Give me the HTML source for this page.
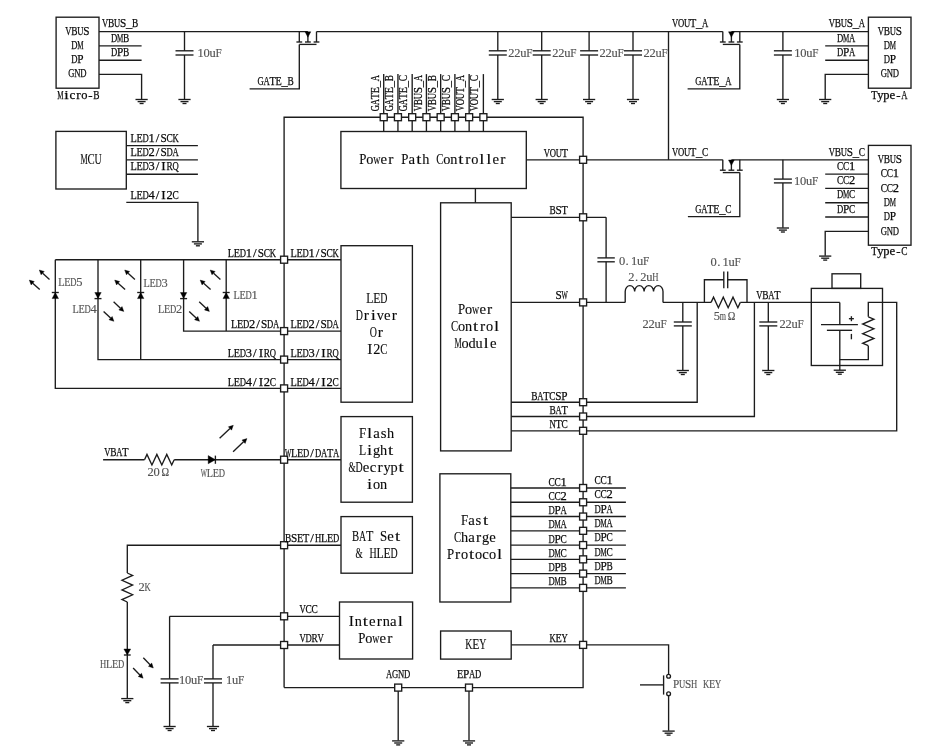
<!DOCTYPE html>
<html lang="en">
<head>
<meta charset="utf-8">
<title>Power bank SoC typical application schematic</title>
<style>
html,body{margin:0;padding:0;background:#fff;}
body{width:946px;height:755px;overflow:hidden;}
svg{display:block;filter:grayscale(1);}
.w{fill:none;stroke:#1c1c1c;stroke-width:1.35;stroke-linecap:butt;stroke-linejoin:miter;}
.p{fill:#fff;stroke:#1c1c1c;stroke-width:1.35;}
.f{fill:#000;stroke:#000;stroke-width:0.4;}
text{font-family:"Liberation Serif", serif;fill:#0a0a0a;stroke:#0a0a0a;stroke-width:0.25;white-space:pre;}
.s{font-size:12.9px;}
.b{font-size:14.8px;stroke-width:0.12;}
.g{fill:#525252;stroke:#525252;stroke-width:0.15;}
</style>
</head>
<body>
<svg role="img" aria-label="Power bank SoC application schematic" width="946" height="755" viewBox="0 0 946 755">
<rect width="946" height="755" fill="#fff"/>
<g class="w">
<rect x="56.1" y="17.2" width="42.9" height="71"/>
<path d="M99 31.6 L307.9 31.6"/>
<path d="M99 45.9 L141.6 45.9"/>
<path d="M99 60.2 L141.6 60.2"/>
<path d="M99 74.4 L141.6 74.4 L141.6 99.2"/>
<path d="M135.5 99.5 L147.7 99.5"/>
<path d="M137.6 101.6 L145.6 101.6"/>
<path d="M139.6 103.5 L143.6 103.5"/>
<path d="M184.5 31.6 L184.5 50.8"/>
<path d="M175.5 50.8 L193.5 50.8"/>
<path d="M175.5 55 L193.5 55"/>
<path d="M184.5 55 L184.5 99.2"/>
<path d="M178.4 99.5 L190.6 99.5"/>
<path d="M180.5 101.6 L188.5 101.6"/>
<path d="M182.5 103.5 L186.5 103.5"/>
<path d="M299.3 31.6 L299.3 42"/>
<path d="M316.5 31.6 L316.5 42"/>
<path d="M296.4 42 L302.2 42"/>
<path d="M305 42 L310.8 42"/>
<path d="M313.6 42 L319.4 42"/>
<path d="M307.9 35.6 L307.9 42"/>
<path d="M299.3 44.4 L316.5 44.4"/>
<path d="M249.6 88.8 L299.3 88.8 L299.3 44.4"/>
<path d="M316.5 31.6 L722.8 31.6"/>
<path d="M497.8 31.6 L497.8 50.8"/>
<path d="M488.8 50.8 L506.8 50.8"/>
<path d="M488.8 55 L506.8 55"/>
<path d="M497.8 55 L497.8 99.2"/>
<path d="M491.7 99.5 L503.9 99.5"/>
<path d="M493.8 101.6 L501.8 101.6"/>
<path d="M495.8 103.5 L499.8 103.5"/>
<path d="M541.7 31.6 L541.7 50.8"/>
<path d="M532.7 50.8 L550.7 50.8"/>
<path d="M532.7 55 L550.7 55"/>
<path d="M541.7 55 L541.7 99.2"/>
<path d="M535.6 99.5 L547.8 99.5"/>
<path d="M537.7 101.6 L545.7 101.6"/>
<path d="M539.7 103.5 L543.7 103.5"/>
<path d="M589.1 31.6 L589.1 50.8"/>
<path d="M580.1 50.8 L598.1 50.8"/>
<path d="M580.1 55 L598.1 55"/>
<path d="M589.1 55 L589.1 99.2"/>
<path d="M583 99.5 L595.2 99.5"/>
<path d="M585.1 101.6 L593.1 101.6"/>
<path d="M587.1 103.5 L591.1 103.5"/>
<path d="M633 31.6 L633 50.8"/>
<path d="M624 50.8 L642 50.8"/>
<path d="M624 55 L642 55"/>
<path d="M633 55 L633 99.2"/>
<path d="M626.9 99.5 L639.1 99.5"/>
<path d="M629 101.6 L637 101.6"/>
<path d="M631 103.5 L635 103.5"/>
<path d="M668.5 31.6 L668.5 159.8"/>
<path d="M722.8 31.6 L722.8 42"/>
<path d="M739.8 31.6 L739.8 42"/>
<path d="M719.9 42 L725.7 42"/>
<path d="M728.5 42 L734.3 42"/>
<path d="M736.9 42 L742.7 42"/>
<path d="M731.4 35.6 L731.4 42"/>
<path d="M722.8 44.4 L739.8 44.4"/>
<path d="M687.6 88.8 L739.8 88.8 L739.8 44.4"/>
<path d="M731.4 31.6 L868.4 31.6"/>
<path d="M782.9 31.6 L782.9 50.8"/>
<path d="M773.9 50.8 L791.9 50.8"/>
<path d="M773.9 55 L791.9 55"/>
<path d="M782.9 55 L782.9 99.2"/>
<path d="M776.8 99.5 L789 99.5"/>
<path d="M778.9 101.6 L786.9 101.6"/>
<path d="M780.9 103.5 L784.9 103.5"/>
<rect x="868.4" y="17.2" width="42.6" height="71"/>
<path d="M825.2 45.9 L868.4 45.9"/>
<path d="M825.2 60.2 L868.4 60.2"/>
<path d="M868.4 74.4 L825.2 74.4 L825.2 99.2"/>
<path d="M819.1 99.5 L831.3 99.5"/>
<path d="M821.2 101.6 L829.2 101.6"/>
<path d="M823.2 103.5 L827.2 103.5"/>
<path d="M583.2 159.8 L722.8 159.8"/>
<path d="M722.8 159.8 L722.8 170.2"/>
<path d="M739.8 159.8 L739.8 170.2"/>
<path d="M719.9 170.2 L725.7 170.2"/>
<path d="M728.5 170.2 L734.3 170.2"/>
<path d="M736.9 170.2 L742.7 170.2"/>
<path d="M731.4 163.8 L731.4 170.2"/>
<path d="M722.8 172.6 L739.8 172.6"/>
<path d="M687.9 216.6 L739.8 216.6 L739.8 172.6"/>
<path d="M731.4 159.8 L868.4 159.8"/>
<path d="M782.9 159.8 L782.9 179.1"/>
<path d="M773.9 179.1 L791.9 179.1"/>
<path d="M773.9 182.9 L791.9 182.9"/>
<path d="M782.9 182.9 L782.9 227.7"/>
<path d="M776.8 228 L789 228"/>
<path d="M778.9 230.1 L786.9 230.1"/>
<path d="M780.9 232 L784.9 232"/>
<rect x="868.4" y="145.4" width="42.6" height="99.8"/>
<path d="M825.2 174.1 L868.4 174.1"/>
<path d="M825.2 188.4 L868.4 188.4"/>
<path d="M825.2 202.7 L868.4 202.7"/>
<path d="M825.2 217 L868.4 217"/>
<path d="M868.4 231.3 L825.2 231.3 L825.2 255.8"/>
<path d="M819.1 256.1 L831.3 256.1"/>
<path d="M821.2 258.2 L829.2 258.2"/>
<path d="M823.2 260.1 L827.2 260.1"/>
<rect x="55.9" y="131.4" width="70.4" height="57.6"/>
<path d="M126.3 145.6 L197.9 145.6"/>
<path d="M126.3 159.9 L197.9 159.9"/>
<path d="M126.3 174.2 L197.9 174.2"/>
<path d="M126.3 202.3 L197.9 202.3 L197.9 241.5"/>
<path d="M191.8 241.8 L204 241.8"/>
<path d="M193.9 243.9 L201.9 243.9"/>
<path d="M195.9 245.8 L199.9 245.8"/>
<path d="M284.1 687.6 L284.1 117.2 L583.1 117.2 L583.1 687.6 L284.1 687.6"/>
<path d="M383.7 74.1 L383.7 131.5"/>
<path d="M397.94 74.1 L397.94 131.5"/>
<path d="M412.18 74.1 L412.18 131.5"/>
<path d="M426.42 74.1 L426.42 131.5"/>
<path d="M440.66 74.1 L440.66 131.5"/>
<path d="M454.9 74.1 L454.9 131.5"/>
<path d="M469.14 74.1 L469.14 131.5"/>
<path d="M483.38 74.1 L483.38 131.5"/>
<rect x="340.9" y="131.5" width="185.4" height="57"/>
<path d="M475.4 188.5 L475.4 202.8"/>
<rect x="341" y="245.7" width="71.4" height="156.5"/>
<rect x="440.6" y="202.8" width="70.6" height="248.1"/>
<rect x="341" y="416.6" width="71.4" height="85.6"/>
<rect x="341" y="516.6" width="71.4" height="56.6"/>
<rect x="339.5" y="602" width="73.1" height="57"/>
<rect x="439.9" y="473.8" width="70.9" height="128.2"/>
<rect x="440.6" y="631" width="70.6" height="28.1"/>
<path d="M284.1 259.7 L341 259.7"/>
<path d="M284.1 331.1 L341 331.1"/>
<path d="M284.1 359.6 L341 359.6"/>
<path d="M284.1 388.4 L341 388.4"/>
<path d="M284.1 459.7 L341 459.7"/>
<path d="M284.1 545.2 L341 545.2"/>
<path d="M284.1 616.3 L339.5 616.3"/>
<path d="M284.1 645 L339.5 645"/>
<path d="M398.2 687.6 L398.2 740.6"/>
<path d="M392.1 740.9 L404.3 740.9"/>
<path d="M394.2 743 L402.2 743"/>
<path d="M396.2 744.9 L400.2 744.9"/>
<path d="M469 687.6 L469 740.6"/>
<path d="M462.9 740.9 L475.1 740.9"/>
<path d="M465 743 L473 743"/>
<path d="M467 744.9 L471 744.9"/>
<path d="M526.3 159.8 L583.1 159.8"/>
<path d="M511.2 217.3 L606.1 217.3"/>
<path d="M510.8 488 L625.9 488"/>
<path d="M510.8 502.27 L625.9 502.27"/>
<path d="M510.8 516.54 L625.9 516.54"/>
<path d="M510.8 530.81 L625.9 530.81"/>
<path d="M510.8 545.08 L625.9 545.08"/>
<path d="M510.8 559.35 L625.9 559.35"/>
<path d="M510.8 573.62 L625.9 573.62"/>
<path d="M510.8 587.89 L625.9 587.89"/>
<path d="M55.3 259.7 L284.1 259.7"/>
<path d="M55.3 259.7 L55.3 388.4 L284.1 388.4"/>
<path d="M98 259.7 L98 359.6 L284.1 359.6"/>
<path d="M140.7 259.7 L140.7 359.6"/>
<path d="M183.6 259.7 L183.6 331.1 L284.1 331.1"/>
<path d="M226.2 259.7 L226.2 331.1"/>
<path d="M51.8 292.5 L58.8 292.5"/>
<path d="M94.5 298.6 L101.5 298.6"/>
<path d="M137.2 292.5 L144.2 292.5"/>
<path d="M180.1 298.6 L187.1 298.6"/>
<path d="M222.7 292.5 L229.7 292.5"/>
<path d="M49.5 279.5 L42.67 273.14"/>
<path d="M39.7 289.6 L32.7 283.2"/>
<path d="M134.9 279.5 L128.07 273.14"/>
<path d="M125.1 289.6 L118.1 283.2"/>
<path d="M220.4 279.5 L213.57 273.14"/>
<path d="M210.6 289.6 L203.6 283.2"/>
<path d="M113.6 301.8 L120.45 308.25"/>
<path d="M103.6 311.4 L110.58 318.11"/>
<path d="M199.2 301.8 L206.05 308.25"/>
<path d="M189.2 311.4 L196.18 318.11"/>
<path d="M103.1 459.7 L144.5 459.7"/>
<path d="M144.5 459.7 L146.97 454.4 L151.92 465 L156.87 454.4 L161.82 465 L166.77 454.4 L171.72 465 L174.2 459.7"/>
<path d="M174.2 459.7 L284.1 459.7"/>
<path d="M215.4 455.6 L215.4 463.8"/>
<path d="M219.6 438.3 L229.96 428.47"/>
<path d="M233.1 451.7 L243.56 441.77"/>
<path d="M284.1 545.2 L127.3 545.2 L127.3 573"/>
<path d="M127.3 573 L132.6 575.42 L122 580.25 L132.6 585.08 L122 589.92 L132.6 594.75 L122 599.58 L127.3 602"/>
<path d="M127.3 602 L127.3 698.3"/>
<path d="M121.2 698.6 L133.4 698.6"/>
<path d="M123.3 700.7 L131.3 700.7"/>
<path d="M125.3 702.6 L129.3 702.6"/>
<path d="M123.9 655 L130.7 655"/>
<path d="M143.3 657.8 L150.08 664.72"/>
<path d="M133.1 668 L139.88 674.92"/>
<path d="M284.1 616.3 L169.6 616.3"/>
<path d="M169.6 616.3 L169.6 678.9"/>
<path d="M160.6 678.9 L178.6 678.9"/>
<path d="M160.6 682.9 L178.6 682.9"/>
<path d="M169.6 682.9 L169.6 726.2"/>
<path d="M163.5 726.5 L175.7 726.5"/>
<path d="M165.6 728.6 L173.6 728.6"/>
<path d="M167.6 730.5 L171.6 730.5"/>
<path d="M284.1 645 L213 645"/>
<path d="M213 645 L213 678.9"/>
<path d="M204 678.9 L222 678.9"/>
<path d="M204 682.9 L222 682.9"/>
<path d="M213 682.9 L213 726.2"/>
<path d="M206.9 726.5 L219.1 726.5"/>
<path d="M209 728.6 L217 728.6"/>
<path d="M211 730.5 L215 730.5"/>
<path d="M583.1 159.8 L583.1 159.8"/>
<path d="M606.1 217.3 L606.1 257.9"/>
<path d="M597.4 257.9 L614.8 257.9"/>
<path d="M597.4 261.8 L614.8 261.8"/>
<path d="M606.1 261.8 L606.1 302.4"/>
<path d="M511.2 302.4 L625.2 302.4"/>
<path d="M625.2 302.4 V291.6 A4.72 5.9 0 0 1 634.65 291.6 A4.72 5.9 0 0 1 644.1 291.6 A4.72 5.9 0 0 1 653.55 291.6 A4.72 5.9 0 0 1 663 291.6 V302.4"/>
<path d="M663 302.4 L711.1 302.4"/>
<path d="M682.8 302.4 L682.8 322"/>
<path d="M673.8 322 L691.8 322"/>
<path d="M673.8 325.9 L691.8 325.9"/>
<path d="M682.8 325.9 L682.8 370.2"/>
<path d="M676.7 370.5 L688.9 370.5"/>
<path d="M678.8 372.6 L686.8 372.6"/>
<path d="M680.8 374.5 L684.8 374.5"/>
<path d="M697.2 302.4 L697.2 402.2 L511.2 402.2"/>
<path d="M711.1 302.4 L713.53 297.1 L718.4 307.7 L723.27 297.1 L728.13 307.7 L733 297.1 L737.87 307.7 L740.3 302.4"/>
<path d="M704.4 302.4 L704.4 279.7 L723.8 279.7"/>
<path d="M723.8 271.4 L723.8 288.3"/>
<path d="M727.7 271.4 L727.7 288.3"/>
<path d="M727.7 279.7 L747 279.7 L747 302.4"/>
<path d="M740.3 302.4 L839.8 302.4"/>
<path d="M754.4 302.4 L754.4 416.5 L511.2 416.5"/>
<path d="M768.3 302.4 L768.3 322"/>
<path d="M759.3 322 L777.3 322"/>
<path d="M759.3 325.9 L777.3 325.9"/>
<path d="M768.3 325.9 L768.3 370.2"/>
<path d="M762.2 370.5 L774.4 370.5"/>
<path d="M764.3 372.6 L772.3 372.6"/>
<path d="M766.3 374.5 L770.3 374.5"/>
<rect x="832" y="273.8" width="28.7" height="14.6"/>
<rect x="811.3" y="288.4" width="71.2" height="77.1"/>
<path d="M839.8 302.4 L839.8 324.6"/>
<path d="M821 324.6 L857.9 324.6"/>
<path d="M826.9 330.3 L852.1 330.3"/>
<path d="M839.8 330.3 L839.8 369.9"/>
<path d="M833.7 370.2 L845.9 370.2"/>
<path d="M835.8 372.3 L843.8 372.3"/>
<path d="M837.8 374.2 L841.8 374.2"/>
<path d="M839.8 359.6 L868.3 359.6 L868.3 345.7"/>
<path d="M868.3 316.8 L873.9 319.21 L862.7 324.03 L873.9 328.84 L862.7 333.66 L873.9 338.48 L862.7 343.29 L868.3 345.7"/>
<path d="M868.3 316.8 L868.3 302.4 L896.7 302.4 L896.7 430.8 L511.2 430.8"/>
<path d="M848.9 318.7 L853.9 318.7"/>
<path d="M851.4 316.2 L851.4 321.2"/>
<path d="M851.4 333.9 L851.4 339.3"/>
<path d="M511.2 644.9 L668.6 644.9 L668.6 674.2"/>
<circle cx="668.6" cy="676.2" r="1.9" fill="#fff"/>
<circle cx="668.6" cy="693.8" r="1.9" fill="#fff"/>
<path d="M668.6 695.8 L668.6 730.8"/>
<path d="M662.5 731.1 L674.7 731.1"/>
<path d="M664.6 733.2 L672.6 733.2"/>
<path d="M666.6 735.1 L670.6 735.1"/>
<path d="M663.6 675.4 L663.6 694.6"/>
<path d="M640 684.9 L663.6 684.9"/>
</g>
<g class="p"><rect x="380.2" y="113.7" width="7" height="7"/><rect x="394.44" y="113.7" width="7" height="7"/><rect x="408.68" y="113.7" width="7" height="7"/><rect x="422.92" y="113.7" width="7" height="7"/><rect x="437.16" y="113.7" width="7" height="7"/><rect x="451.4" y="113.7" width="7" height="7"/><rect x="465.64" y="113.7" width="7" height="7"/><rect x="479.88" y="113.7" width="7" height="7"/><rect x="280.6" y="256.2" width="7" height="7"/><rect x="280.6" y="327.6" width="7" height="7"/><rect x="280.6" y="356.1" width="7" height="7"/><rect x="280.6" y="384.9" width="7" height="7"/><rect x="280.6" y="456.2" width="7" height="7"/><rect x="280.6" y="541.7" width="7" height="7"/><rect x="280.6" y="612.8" width="7" height="7"/><rect x="280.6" y="641.5" width="7" height="7"/><rect x="394.7" y="684.1" width="7" height="7"/><rect x="465.5" y="684.1" width="7" height="7"/><rect x="579.6" y="156.3" width="7" height="7"/><rect x="579.6" y="213.8" width="7" height="7"/><rect x="579.6" y="298.9" width="7" height="7"/><rect x="579.6" y="398.7" width="7" height="7"/><rect x="579.6" y="413" width="7" height="7"/><rect x="579.6" y="427.3" width="7" height="7"/><rect x="579.6" y="484.5" width="7" height="7"/><rect x="579.6" y="498.77" width="7" height="7"/><rect x="579.6" y="513.04" width="7" height="7"/><rect x="579.6" y="527.31" width="7" height="7"/><rect x="579.6" y="541.58" width="7" height="7"/><rect x="579.6" y="555.85" width="7" height="7"/><rect x="579.6" y="570.12" width="7" height="7"/><rect x="579.6" y="584.39" width="7" height="7"/><rect x="579.6" y="641.4" width="7" height="7"/></g>
<g class="f">
<path d="M307.9 37.2 L305 31.8 L310.8 31.8 Z"/>
<path d="M731.4 37.2 L728.5 31.8 L734.3 31.8 Z"/>
<path d="M731.4 165.4 L728.5 160 L734.3 160 Z"/>
<path d="M55.3 292.5 L52.1 298.6 L58.5 298.6 Z"/>
<path d="M98 298.6 L94.8 292.5 L101.2 292.5 Z"/>
<path d="M140.7 292.5 L137.5 298.6 L143.9 298.6 Z"/>
<path d="M183.6 298.6 L180.4 292.5 L186.8 292.5 Z"/>
<path d="M226.2 292.5 L223 298.6 L229.4 298.6 Z"/>
<path d="M39.3 270 L44.23 271.45 L41.1 274.82 Z"/>
<path d="M29.3 280.1 L34.25 281.5 L31.15 284.9 Z"/>
<path d="M124.7 270 L129.63 271.45 L126.5 274.82 Z"/>
<path d="M114.7 280.1 L119.65 281.5 L116.55 284.9 Z"/>
<path d="M210.2 270 L215.13 271.45 L212 274.82 Z"/>
<path d="M200.2 280.1 L205.15 281.5 L202.05 284.9 Z"/>
<path d="M123.8 311.4 L118.87 309.92 L122.03 306.57 Z"/>
<path d="M113.9 321.3 L108.99 319.77 L112.18 316.45 Z"/>
<path d="M209.4 311.4 L204.47 309.92 L207.63 306.57 Z"/>
<path d="M199.5 321.3 L194.59 319.77 L197.78 316.45 Z"/>
<path d="M215.4 459.7 L208.2 455.6 L208.2 463.8 Z"/>
<path d="M233.3 425.3 L231.55 430.13 L228.38 426.8 Z"/>
<path d="M246.9 438.6 L245.15 443.44 L241.98 440.1 Z"/>
<path d="M127.3 655 L123.9 649 L130.7 649 Z"/>
<path d="M153.3 668 L148.44 666.33 L151.72 663.11 Z"/>
<path d="M143.1 678.2 L138.24 676.53 L141.52 673.31 Z"/>
</g>
<g opacity="0.995">
<text class="s" y="34.7"><title>VBUS</title><tspan x="65.28" textLength="6.25" lengthAdjust="spacingAndGlyphs">V</tspan><tspan x="71.28" textLength="6.25" lengthAdjust="spacingAndGlyphs">B</tspan><tspan x="77.28" textLength="6.25" lengthAdjust="spacingAndGlyphs">U</tspan><tspan x="83.28" textLength="6.25" lengthAdjust="spacingAndGlyphs">S</tspan></text>
<text class="s" y="48.7"><title>DM</title><tspan x="71.28" textLength="6.25" lengthAdjust="spacingAndGlyphs">D</tspan><tspan x="77.28" textLength="6.25" lengthAdjust="spacingAndGlyphs">M</tspan></text>
<text class="s" y="63.3"><title>DP</title><tspan x="71.28" textLength="6.25" lengthAdjust="spacingAndGlyphs">D</tspan><tspan x="77.28" textLength="6.25" lengthAdjust="spacingAndGlyphs">P</tspan></text>
<text class="s" y="77.3"><title>GND</title><tspan x="68.28" textLength="6.25" lengthAdjust="spacingAndGlyphs">G</tspan><tspan x="74.28" textLength="6.25" lengthAdjust="spacingAndGlyphs">N</tspan><tspan x="80.28" textLength="6.25" lengthAdjust="spacingAndGlyphs">D</tspan></text>
<text class="s" y="99"><title>Micro-B</title><tspan x="57.27" textLength="6.25" lengthAdjust="spacingAndGlyphs">M</tspan><tspan x="64.18" textLength="4.44" lengthAdjust="spacingAndGlyphs">i</tspan><tspan x="69.54">c</tspan><tspan x="76.18" textLength="4.44" lengthAdjust="spacingAndGlyphs">r</tspan><tspan x="81.28" textLength="6.25" lengthAdjust="spacingAndGlyphs">o</tspan><tspan x="88.25">-</tspan><tspan x="93.28" textLength="6.25" lengthAdjust="spacingAndGlyphs">B</tspan></text>
<text class="s" y="27.4"><title>VBUS_B</title><tspan x="101.88" textLength="6.25" lengthAdjust="spacingAndGlyphs">V</tspan><tspan x="107.88" textLength="6.25" lengthAdjust="spacingAndGlyphs">B</tspan><tspan x="113.88" textLength="6.25" lengthAdjust="spacingAndGlyphs">U</tspan><tspan x="119.88" textLength="6.25" lengthAdjust="spacingAndGlyphs">S</tspan><tspan x="125.88" textLength="6.25" lengthAdjust="spacingAndGlyphs">_</tspan><tspan x="131.88" textLength="6.25" lengthAdjust="spacingAndGlyphs">B</tspan></text>
<text class="s" y="41.5"><title>DMB</title><tspan x="110.88" textLength="6.25" lengthAdjust="spacingAndGlyphs">D</tspan><tspan x="116.88" textLength="6.25" lengthAdjust="spacingAndGlyphs">M</tspan><tspan x="122.88" textLength="6.25" lengthAdjust="spacingAndGlyphs">B</tspan></text>
<text class="s" y="56"><title>DPB</title><tspan x="110.88" textLength="6.25" lengthAdjust="spacingAndGlyphs">D</tspan><tspan x="116.88" textLength="6.25" lengthAdjust="spacingAndGlyphs">P</tspan><tspan x="122.88" textLength="6.25" lengthAdjust="spacingAndGlyphs">B</tspan></text>
<text class="s g" y="56.9"><title>10uF</title><tspan x="197.38" textLength="6.25" lengthAdjust="spacingAndGlyphs">1</tspan><tspan x="203.38" textLength="6.25" lengthAdjust="spacingAndGlyphs">0</tspan><tspan x="209.38" textLength="6.25" lengthAdjust="spacingAndGlyphs">u</tspan><tspan x="215.38" textLength="6.25" lengthAdjust="spacingAndGlyphs">F</tspan></text>
<text class="s" y="84.9"><title>GATE_B</title><tspan x="257.48" textLength="6.25" lengthAdjust="spacingAndGlyphs">G</tspan><tspan x="263.48" textLength="6.25" lengthAdjust="spacingAndGlyphs">A</tspan><tspan x="269.48" textLength="6.25" lengthAdjust="spacingAndGlyphs">T</tspan><tspan x="275.48" textLength="6.25" lengthAdjust="spacingAndGlyphs">E</tspan><tspan x="281.48" textLength="6.25" lengthAdjust="spacingAndGlyphs">_</tspan><tspan x="287.48" textLength="6.25" lengthAdjust="spacingAndGlyphs">B</tspan></text>
<text class="s g" y="56.9"><title>22uF</title><tspan x="508.28" textLength="6.25" lengthAdjust="spacingAndGlyphs">2</tspan><tspan x="514.28" textLength="6.25" lengthAdjust="spacingAndGlyphs">2</tspan><tspan x="520.28" textLength="6.25" lengthAdjust="spacingAndGlyphs">u</tspan><tspan x="526.28" textLength="6.25" lengthAdjust="spacingAndGlyphs">F</tspan></text>
<text class="s g" y="56.9"><title>22uF</title><tspan x="552.18" textLength="6.25" lengthAdjust="spacingAndGlyphs">2</tspan><tspan x="558.18" textLength="6.25" lengthAdjust="spacingAndGlyphs">2</tspan><tspan x="564.18" textLength="6.25" lengthAdjust="spacingAndGlyphs">u</tspan><tspan x="570.18" textLength="6.25" lengthAdjust="spacingAndGlyphs">F</tspan></text>
<text class="s g" y="56.9"><title>22uF</title><tspan x="599.58" textLength="6.25" lengthAdjust="spacingAndGlyphs">2</tspan><tspan x="605.58" textLength="6.25" lengthAdjust="spacingAndGlyphs">2</tspan><tspan x="611.58" textLength="6.25" lengthAdjust="spacingAndGlyphs">u</tspan><tspan x="617.58" textLength="6.25" lengthAdjust="spacingAndGlyphs">F</tspan></text>
<text class="s g" y="56.9"><title>22uF</title><tspan x="643.48" textLength="6.25" lengthAdjust="spacingAndGlyphs">2</tspan><tspan x="649.48" textLength="6.25" lengthAdjust="spacingAndGlyphs">2</tspan><tspan x="655.48" textLength="6.25" lengthAdjust="spacingAndGlyphs">u</tspan><tspan x="661.48" textLength="6.25" lengthAdjust="spacingAndGlyphs">F</tspan></text>
<text class="s" y="27.4"><title>VOUT_A</title><tspan x="671.88" textLength="6.25" lengthAdjust="spacingAndGlyphs">V</tspan><tspan x="677.88" textLength="6.25" lengthAdjust="spacingAndGlyphs">O</tspan><tspan x="683.88" textLength="6.25" lengthAdjust="spacingAndGlyphs">U</tspan><tspan x="689.88" textLength="6.25" lengthAdjust="spacingAndGlyphs">T</tspan><tspan x="695.88" textLength="6.25" lengthAdjust="spacingAndGlyphs">_</tspan><tspan x="701.88" textLength="6.25" lengthAdjust="spacingAndGlyphs">A</tspan></text>
<text class="s" y="156"><title>VOUT_C</title><tspan x="671.88" textLength="6.25" lengthAdjust="spacingAndGlyphs">V</tspan><tspan x="677.88" textLength="6.25" lengthAdjust="spacingAndGlyphs">O</tspan><tspan x="683.88" textLength="6.25" lengthAdjust="spacingAndGlyphs">U</tspan><tspan x="689.88" textLength="6.25" lengthAdjust="spacingAndGlyphs">T</tspan><tspan x="695.88" textLength="6.25" lengthAdjust="spacingAndGlyphs">_</tspan><tspan x="701.88" textLength="6.25" lengthAdjust="spacingAndGlyphs">C</tspan></text>
<text class="s" y="84.9"><title>GATE_A</title><tspan x="695.27" textLength="6.25" lengthAdjust="spacingAndGlyphs">G</tspan><tspan x="701.27" textLength="6.25" lengthAdjust="spacingAndGlyphs">A</tspan><tspan x="707.27" textLength="6.25" lengthAdjust="spacingAndGlyphs">T</tspan><tspan x="713.27" textLength="6.25" lengthAdjust="spacingAndGlyphs">E</tspan><tspan x="719.27" textLength="6.25" lengthAdjust="spacingAndGlyphs">_</tspan><tspan x="725.27" textLength="6.25" lengthAdjust="spacingAndGlyphs">A</tspan></text>
<text class="s g" y="56.9"><title>10uF</title><tspan x="794.27" textLength="6.25" lengthAdjust="spacingAndGlyphs">1</tspan><tspan x="800.27" textLength="6.25" lengthAdjust="spacingAndGlyphs">0</tspan><tspan x="806.27" textLength="6.25" lengthAdjust="spacingAndGlyphs">u</tspan><tspan x="812.27" textLength="6.25" lengthAdjust="spacingAndGlyphs">F</tspan></text>
<text class="s" y="34.7"><title>VBUS</title><tspan x="877.67" textLength="6.25" lengthAdjust="spacingAndGlyphs">V</tspan><tspan x="883.67" textLength="6.25" lengthAdjust="spacingAndGlyphs">B</tspan><tspan x="889.67" textLength="6.25" lengthAdjust="spacingAndGlyphs">U</tspan><tspan x="895.67" textLength="6.25" lengthAdjust="spacingAndGlyphs">S</tspan></text>
<text class="s" y="48.7"><title>DM</title><tspan x="883.67" textLength="6.25" lengthAdjust="spacingAndGlyphs">D</tspan><tspan x="889.67" textLength="6.25" lengthAdjust="spacingAndGlyphs">M</tspan></text>
<text class="s" y="63.3"><title>DP</title><tspan x="883.67" textLength="6.25" lengthAdjust="spacingAndGlyphs">D</tspan><tspan x="889.67" textLength="6.25" lengthAdjust="spacingAndGlyphs">P</tspan></text>
<text class="s" y="77.3"><title>GND</title><tspan x="880.67" textLength="6.25" lengthAdjust="spacingAndGlyphs">G</tspan><tspan x="886.67" textLength="6.25" lengthAdjust="spacingAndGlyphs">N</tspan><tspan x="892.67" textLength="6.25" lengthAdjust="spacingAndGlyphs">D</tspan></text>
<text class="s" y="99"><title>Type-A</title><tspan x="871.27" textLength="6.25" lengthAdjust="spacingAndGlyphs">T</tspan><tspan x="877.27" textLength="6.25" lengthAdjust="spacingAndGlyphs">y</tspan><tspan x="883.27" textLength="6.25" lengthAdjust="spacingAndGlyphs">p</tspan><tspan x="889.54">e</tspan><tspan x="896.25">-</tspan><tspan x="901.27" textLength="6.25" lengthAdjust="spacingAndGlyphs">A</tspan></text>
<text class="s" y="27.4"><title>VBUS_A</title><tspan x="828.67" textLength="6.25" lengthAdjust="spacingAndGlyphs">V</tspan><tspan x="834.67" textLength="6.25" lengthAdjust="spacingAndGlyphs">B</tspan><tspan x="840.67" textLength="6.25" lengthAdjust="spacingAndGlyphs">U</tspan><tspan x="846.67" textLength="6.25" lengthAdjust="spacingAndGlyphs">S</tspan><tspan x="852.67" textLength="6.25" lengthAdjust="spacingAndGlyphs">_</tspan><tspan x="858.67" textLength="6.25" lengthAdjust="spacingAndGlyphs">A</tspan></text>
<text class="s" y="41.5"><title>DMA</title><tspan x="837.08" textLength="6.25" lengthAdjust="spacingAndGlyphs">D</tspan><tspan x="843.08" textLength="6.25" lengthAdjust="spacingAndGlyphs">M</tspan><tspan x="849.08" textLength="6.25" lengthAdjust="spacingAndGlyphs">A</tspan></text>
<text class="s" y="56"><title>DPA</title><tspan x="837.08" textLength="6.25" lengthAdjust="spacingAndGlyphs">D</tspan><tspan x="843.08" textLength="6.25" lengthAdjust="spacingAndGlyphs">P</tspan><tspan x="849.08" textLength="6.25" lengthAdjust="spacingAndGlyphs">A</tspan></text>
<text class="s" y="213.2"><title>GATE_C</title><tspan x="695.27" textLength="6.25" lengthAdjust="spacingAndGlyphs">G</tspan><tspan x="701.27" textLength="6.25" lengthAdjust="spacingAndGlyphs">A</tspan><tspan x="707.27" textLength="6.25" lengthAdjust="spacingAndGlyphs">T</tspan><tspan x="713.27" textLength="6.25" lengthAdjust="spacingAndGlyphs">E</tspan><tspan x="719.27" textLength="6.25" lengthAdjust="spacingAndGlyphs">_</tspan><tspan x="725.27" textLength="6.25" lengthAdjust="spacingAndGlyphs">C</tspan></text>
<text class="s g" y="184.6"><title>10uF</title><tspan x="794.08" textLength="6.25" lengthAdjust="spacingAndGlyphs">1</tspan><tspan x="800.08" textLength="6.25" lengthAdjust="spacingAndGlyphs">0</tspan><tspan x="806.08" textLength="6.25" lengthAdjust="spacingAndGlyphs">u</tspan><tspan x="812.08" textLength="6.25" lengthAdjust="spacingAndGlyphs">F</tspan></text>
<text class="s" y="163.1"><title>VBUS</title><tspan x="877.67" textLength="6.25" lengthAdjust="spacingAndGlyphs">V</tspan><tspan x="883.67" textLength="6.25" lengthAdjust="spacingAndGlyphs">B</tspan><tspan x="889.67" textLength="6.25" lengthAdjust="spacingAndGlyphs">U</tspan><tspan x="895.67" textLength="6.25" lengthAdjust="spacingAndGlyphs">S</tspan></text>
<text class="s" y="177.4"><title>CC1</title><tspan x="880.67" textLength="6.25" lengthAdjust="spacingAndGlyphs">C</tspan><tspan x="886.67" textLength="6.25" lengthAdjust="spacingAndGlyphs">C</tspan><tspan x="892.67" textLength="6.25" lengthAdjust="spacingAndGlyphs">1</tspan></text>
<text class="s" y="191.7"><title>CC2</title><tspan x="880.67" textLength="6.25" lengthAdjust="spacingAndGlyphs">C</tspan><tspan x="886.67" textLength="6.25" lengthAdjust="spacingAndGlyphs">C</tspan><tspan x="892.67" textLength="6.25" lengthAdjust="spacingAndGlyphs">2</tspan></text>
<text class="s" y="206"><title>DM</title><tspan x="883.67" textLength="6.25" lengthAdjust="spacingAndGlyphs">D</tspan><tspan x="889.67" textLength="6.25" lengthAdjust="spacingAndGlyphs">M</tspan></text>
<text class="s" y="220.3"><title>DP</title><tspan x="883.67" textLength="6.25" lengthAdjust="spacingAndGlyphs">D</tspan><tspan x="889.67" textLength="6.25" lengthAdjust="spacingAndGlyphs">P</tspan></text>
<text class="s" y="234.6"><title>GND</title><tspan x="880.67" textLength="6.25" lengthAdjust="spacingAndGlyphs">G</tspan><tspan x="886.67" textLength="6.25" lengthAdjust="spacingAndGlyphs">N</tspan><tspan x="892.67" textLength="6.25" lengthAdjust="spacingAndGlyphs">D</tspan></text>
<text class="s" y="255.4"><title>Type-C</title><tspan x="871.27" textLength="6.25" lengthAdjust="spacingAndGlyphs">T</tspan><tspan x="877.27" textLength="6.25" lengthAdjust="spacingAndGlyphs">y</tspan><tspan x="883.27" textLength="6.25" lengthAdjust="spacingAndGlyphs">p</tspan><tspan x="889.54">e</tspan><tspan x="896.25">-</tspan><tspan x="901.27" textLength="6.25" lengthAdjust="spacingAndGlyphs">C</tspan></text>
<text class="s" y="155.6"><title>VBUS_C</title><tspan x="828.67" textLength="6.25" lengthAdjust="spacingAndGlyphs">V</tspan><tspan x="834.67" textLength="6.25" lengthAdjust="spacingAndGlyphs">B</tspan><tspan x="840.67" textLength="6.25" lengthAdjust="spacingAndGlyphs">U</tspan><tspan x="846.67" textLength="6.25" lengthAdjust="spacingAndGlyphs">S</tspan><tspan x="852.67" textLength="6.25" lengthAdjust="spacingAndGlyphs">_</tspan><tspan x="858.67" textLength="6.25" lengthAdjust="spacingAndGlyphs">C</tspan></text>
<text class="s" y="169.8"><title>CC1</title><tspan x="837.08" textLength="6.25" lengthAdjust="spacingAndGlyphs">C</tspan><tspan x="843.08" textLength="6.25" lengthAdjust="spacingAndGlyphs">C</tspan><tspan x="849.08" textLength="6.25" lengthAdjust="spacingAndGlyphs">1</tspan></text>
<text class="s" y="184.1"><title>CC2</title><tspan x="837.08" textLength="6.25" lengthAdjust="spacingAndGlyphs">C</tspan><tspan x="843.08" textLength="6.25" lengthAdjust="spacingAndGlyphs">C</tspan><tspan x="849.08" textLength="6.25" lengthAdjust="spacingAndGlyphs">2</tspan></text>
<text class="s" y="198.4"><title>DMC</title><tspan x="837.08" textLength="6.25" lengthAdjust="spacingAndGlyphs">D</tspan><tspan x="843.08" textLength="6.25" lengthAdjust="spacingAndGlyphs">M</tspan><tspan x="849.08" textLength="6.25" lengthAdjust="spacingAndGlyphs">C</tspan></text>
<text class="s" y="212.7"><title>DPC</title><tspan x="837.08" textLength="6.25" lengthAdjust="spacingAndGlyphs">D</tspan><tspan x="843.08" textLength="6.25" lengthAdjust="spacingAndGlyphs">P</tspan><tspan x="849.08" textLength="6.25" lengthAdjust="spacingAndGlyphs">C</tspan></text>
<text class="b" y="164.3"><title>MCU</title><tspan x="80.62" textLength="7.15" lengthAdjust="spacingAndGlyphs">M</tspan><tspan x="87.62" textLength="7.15" lengthAdjust="spacingAndGlyphs">C</tspan><tspan x="94.62" textLength="7.15" lengthAdjust="spacingAndGlyphs">U</tspan></text>
<text class="s" y="141.5"><title>LED1/SCK</title><tspan x="130.47" textLength="6.25" lengthAdjust="spacingAndGlyphs">L</tspan><tspan x="136.47" textLength="6.25" lengthAdjust="spacingAndGlyphs">E</tspan><tspan x="142.47" textLength="6.25" lengthAdjust="spacingAndGlyphs">D</tspan><tspan x="148.47" textLength="6.25" lengthAdjust="spacingAndGlyphs">1</tspan><tspan x="155.81">/</tspan><tspan x="160.47" textLength="6.25" lengthAdjust="spacingAndGlyphs">S</tspan><tspan x="166.47" textLength="6.25" lengthAdjust="spacingAndGlyphs">C</tspan><tspan x="172.47" textLength="6.25" lengthAdjust="spacingAndGlyphs">K</tspan></text>
<text class="s" y="155.8"><title>LED2/SDA</title><tspan x="130.47" textLength="6.25" lengthAdjust="spacingAndGlyphs">L</tspan><tspan x="136.47" textLength="6.25" lengthAdjust="spacingAndGlyphs">E</tspan><tspan x="142.47" textLength="6.25" lengthAdjust="spacingAndGlyphs">D</tspan><tspan x="148.47" textLength="6.25" lengthAdjust="spacingAndGlyphs">2</tspan><tspan x="155.81">/</tspan><tspan x="160.47" textLength="6.25" lengthAdjust="spacingAndGlyphs">S</tspan><tspan x="166.47" textLength="6.25" lengthAdjust="spacingAndGlyphs">D</tspan><tspan x="172.47" textLength="6.25" lengthAdjust="spacingAndGlyphs">A</tspan></text>
<text class="s" y="170.1"><title>LED3/IRQ</title><tspan x="130.47" textLength="6.25" lengthAdjust="spacingAndGlyphs">L</tspan><tspan x="136.47" textLength="6.25" lengthAdjust="spacingAndGlyphs">E</tspan><tspan x="142.47" textLength="6.25" lengthAdjust="spacingAndGlyphs">D</tspan><tspan x="148.47" textLength="6.25" lengthAdjust="spacingAndGlyphs">3</tspan><tspan x="155.81">/</tspan><tspan x="161.38" textLength="4.44" lengthAdjust="spacingAndGlyphs">I</tspan><tspan x="166.47" textLength="6.25" lengthAdjust="spacingAndGlyphs">R</tspan><tspan x="172.47" textLength="6.25" lengthAdjust="spacingAndGlyphs">Q</tspan></text>
<text class="s" y="198.9"><title>LED4/I2C</title><tspan x="130.47" textLength="6.25" lengthAdjust="spacingAndGlyphs">L</tspan><tspan x="136.47" textLength="6.25" lengthAdjust="spacingAndGlyphs">E</tspan><tspan x="142.47" textLength="6.25" lengthAdjust="spacingAndGlyphs">D</tspan><tspan x="148.47" textLength="6.25" lengthAdjust="spacingAndGlyphs">4</tspan><tspan x="155.81">/</tspan><tspan x="161.38" textLength="4.44" lengthAdjust="spacingAndGlyphs">I</tspan><tspan x="166.47" textLength="6.25" lengthAdjust="spacingAndGlyphs">2</tspan><tspan x="172.47" textLength="6.25" lengthAdjust="spacingAndGlyphs">C</tspan></text>
<text class="s" transform="translate(378.8 111.2) rotate(-90)"><title>GATE_A</title><tspan x="-0.12" textLength="6.25" lengthAdjust="spacingAndGlyphs">G</tspan><tspan x="5.88" textLength="6.25" lengthAdjust="spacingAndGlyphs">A</tspan><tspan x="11.88" textLength="6.25" lengthAdjust="spacingAndGlyphs">T</tspan><tspan x="17.88" textLength="6.25" lengthAdjust="spacingAndGlyphs">E</tspan><tspan x="23.88" textLength="6.25" lengthAdjust="spacingAndGlyphs">_</tspan><tspan x="29.88" textLength="6.25" lengthAdjust="spacingAndGlyphs">A</tspan></text>
<text class="s" transform="translate(393.04 111.2) rotate(-90)"><title>GATE_B</title><tspan x="-0.12" textLength="6.25" lengthAdjust="spacingAndGlyphs">G</tspan><tspan x="5.88" textLength="6.25" lengthAdjust="spacingAndGlyphs">A</tspan><tspan x="11.88" textLength="6.25" lengthAdjust="spacingAndGlyphs">T</tspan><tspan x="17.88" textLength="6.25" lengthAdjust="spacingAndGlyphs">E</tspan><tspan x="23.88" textLength="6.25" lengthAdjust="spacingAndGlyphs">_</tspan><tspan x="29.88" textLength="6.25" lengthAdjust="spacingAndGlyphs">B</tspan></text>
<text class="s" transform="translate(407.28 111.2) rotate(-90)"><title>GATE_C</title><tspan x="-0.12" textLength="6.25" lengthAdjust="spacingAndGlyphs">G</tspan><tspan x="5.88" textLength="6.25" lengthAdjust="spacingAndGlyphs">A</tspan><tspan x="11.88" textLength="6.25" lengthAdjust="spacingAndGlyphs">T</tspan><tspan x="17.88" textLength="6.25" lengthAdjust="spacingAndGlyphs">E</tspan><tspan x="23.88" textLength="6.25" lengthAdjust="spacingAndGlyphs">_</tspan><tspan x="29.88" textLength="6.25" lengthAdjust="spacingAndGlyphs">C</tspan></text>
<text class="s" transform="translate(421.52 111.2) rotate(-90)"><title>VBUS_A</title><tspan x="-0.12" textLength="6.25" lengthAdjust="spacingAndGlyphs">V</tspan><tspan x="5.88" textLength="6.25" lengthAdjust="spacingAndGlyphs">B</tspan><tspan x="11.88" textLength="6.25" lengthAdjust="spacingAndGlyphs">U</tspan><tspan x="17.88" textLength="6.25" lengthAdjust="spacingAndGlyphs">S</tspan><tspan x="23.88" textLength="6.25" lengthAdjust="spacingAndGlyphs">_</tspan><tspan x="29.88" textLength="6.25" lengthAdjust="spacingAndGlyphs">A</tspan></text>
<text class="s" transform="translate(435.76 111.2) rotate(-90)"><title>VBUS_B</title><tspan x="-0.12" textLength="6.25" lengthAdjust="spacingAndGlyphs">V</tspan><tspan x="5.88" textLength="6.25" lengthAdjust="spacingAndGlyphs">B</tspan><tspan x="11.88" textLength="6.25" lengthAdjust="spacingAndGlyphs">U</tspan><tspan x="17.88" textLength="6.25" lengthAdjust="spacingAndGlyphs">S</tspan><tspan x="23.88" textLength="6.25" lengthAdjust="spacingAndGlyphs">_</tspan><tspan x="29.88" textLength="6.25" lengthAdjust="spacingAndGlyphs">B</tspan></text>
<text class="s" transform="translate(450 111.2) rotate(-90)"><title>VBUS_C</title><tspan x="-0.12" textLength="6.25" lengthAdjust="spacingAndGlyphs">V</tspan><tspan x="5.88" textLength="6.25" lengthAdjust="spacingAndGlyphs">B</tspan><tspan x="11.88" textLength="6.25" lengthAdjust="spacingAndGlyphs">U</tspan><tspan x="17.88" textLength="6.25" lengthAdjust="spacingAndGlyphs">S</tspan><tspan x="23.88" textLength="6.25" lengthAdjust="spacingAndGlyphs">_</tspan><tspan x="29.88" textLength="6.25" lengthAdjust="spacingAndGlyphs">C</tspan></text>
<text class="s" transform="translate(464.24 111.2) rotate(-90)"><title>VOUT_A</title><tspan x="-0.12" textLength="6.25" lengthAdjust="spacingAndGlyphs">V</tspan><tspan x="5.88" textLength="6.25" lengthAdjust="spacingAndGlyphs">O</tspan><tspan x="11.88" textLength="6.25" lengthAdjust="spacingAndGlyphs">U</tspan><tspan x="17.88" textLength="6.25" lengthAdjust="spacingAndGlyphs">T</tspan><tspan x="23.88" textLength="6.25" lengthAdjust="spacingAndGlyphs">_</tspan><tspan x="29.88" textLength="6.25" lengthAdjust="spacingAndGlyphs">A</tspan></text>
<text class="s" transform="translate(478.48 111.2) rotate(-90)"><title>VOUT_C</title><tspan x="-0.12" textLength="6.25" lengthAdjust="spacingAndGlyphs">V</tspan><tspan x="5.88" textLength="6.25" lengthAdjust="spacingAndGlyphs">O</tspan><tspan x="11.88" textLength="6.25" lengthAdjust="spacingAndGlyphs">U</tspan><tspan x="17.88" textLength="6.25" lengthAdjust="spacingAndGlyphs">T</tspan><tspan x="23.88" textLength="6.25" lengthAdjust="spacingAndGlyphs">_</tspan><tspan x="29.88" textLength="6.25" lengthAdjust="spacingAndGlyphs">C</tspan></text>
<text class="b" y="163.8"><title>Power Path Controller</title><tspan x="359.23" textLength="7.15" lengthAdjust="spacingAndGlyphs">P</tspan><tspan x="366.23" textLength="7.15" lengthAdjust="spacingAndGlyphs">o</tspan><tspan x="373.23" textLength="7.15" lengthAdjust="spacingAndGlyphs">w</tspan><tspan x="380.51">e</tspan><tspan x="388.21" textLength="5.18" lengthAdjust="spacingAndGlyphs">r</tspan> <tspan x="401.23" textLength="7.15" lengthAdjust="spacingAndGlyphs">P</tspan><tspan x="408.51">a</tspan><tspan x="416.21" textLength="5.18" lengthAdjust="spacingAndGlyphs">t</tspan><tspan x="422.23" textLength="7.15" lengthAdjust="spacingAndGlyphs">h</tspan> <tspan x="436.23" textLength="7.15" lengthAdjust="spacingAndGlyphs">C</tspan><tspan x="443.23" textLength="7.15" lengthAdjust="spacingAndGlyphs">o</tspan><tspan x="450.23" textLength="7.15" lengthAdjust="spacingAndGlyphs">n</tspan><tspan x="458.21" textLength="5.18" lengthAdjust="spacingAndGlyphs">t</tspan><tspan x="465.21" textLength="5.18" lengthAdjust="spacingAndGlyphs">r</tspan><tspan x="471.23" textLength="7.15" lengthAdjust="spacingAndGlyphs">o</tspan><tspan x="479.21" textLength="5.18" lengthAdjust="spacingAndGlyphs">l</tspan><tspan x="486.21" textLength="5.18" lengthAdjust="spacingAndGlyphs">l</tspan><tspan x="492.51">e</tspan><tspan x="500.21" textLength="5.18" lengthAdjust="spacingAndGlyphs">r</tspan></text>
<text class="b" y="302.8"><title>LED</title><tspan x="366.32" textLength="7.15" lengthAdjust="spacingAndGlyphs">L</tspan><tspan x="373.32" textLength="7.15" lengthAdjust="spacingAndGlyphs">E</tspan><tspan x="380.32" textLength="7.15" lengthAdjust="spacingAndGlyphs">D</tspan></text>
<text class="b" y="319.75"><title>Driver</title><tspan x="355.82" textLength="7.15" lengthAdjust="spacingAndGlyphs">D</tspan><tspan x="363.81" textLength="5.18" lengthAdjust="spacingAndGlyphs">r</tspan><tspan x="370.81" textLength="5.18" lengthAdjust="spacingAndGlyphs">i</tspan><tspan x="376.82" textLength="7.15" lengthAdjust="spacingAndGlyphs">v</tspan><tspan x="384.11">e</tspan><tspan x="391.81" textLength="5.18" lengthAdjust="spacingAndGlyphs">r</tspan></text>
<text class="b" y="336.7"><title>Or</title><tspan x="369.82" textLength="7.15" lengthAdjust="spacingAndGlyphs">O</tspan><tspan x="377.81" textLength="5.18" lengthAdjust="spacingAndGlyphs">r</tspan></text>
<text class="b" y="353.65"><title>I2C</title><tspan x="367.31" textLength="5.18" lengthAdjust="spacingAndGlyphs">I</tspan><tspan x="373.32" textLength="7.15" lengthAdjust="spacingAndGlyphs">2</tspan><tspan x="380.32" textLength="7.15" lengthAdjust="spacingAndGlyphs">C</tspan></text>
<text class="b" y="314.3"><title>Power</title><tspan x="458.12" textLength="7.15" lengthAdjust="spacingAndGlyphs">P</tspan><tspan x="465.12" textLength="7.15" lengthAdjust="spacingAndGlyphs">o</tspan><tspan x="472.12" textLength="7.15" lengthAdjust="spacingAndGlyphs">w</tspan><tspan x="479.41">e</tspan><tspan x="487.11" textLength="5.18" lengthAdjust="spacingAndGlyphs">r</tspan></text>
<text class="b" y="331.2"><title>Control</title><tspan x="451.12" textLength="7.15" lengthAdjust="spacingAndGlyphs">C</tspan><tspan x="458.12" textLength="7.15" lengthAdjust="spacingAndGlyphs">o</tspan><tspan x="465.12" textLength="7.15" lengthAdjust="spacingAndGlyphs">n</tspan><tspan x="473.11" textLength="5.18" lengthAdjust="spacingAndGlyphs">t</tspan><tspan x="480.11" textLength="5.18" lengthAdjust="spacingAndGlyphs">r</tspan><tspan x="486.12" textLength="7.15" lengthAdjust="spacingAndGlyphs">o</tspan><tspan x="494.11" textLength="5.18" lengthAdjust="spacingAndGlyphs">l</tspan></text>
<text class="b" y="348.1"><title>Module</title><tspan x="454.62" textLength="7.15" lengthAdjust="spacingAndGlyphs">M</tspan><tspan x="461.62" textLength="7.15" lengthAdjust="spacingAndGlyphs">o</tspan><tspan x="468.62" textLength="7.15" lengthAdjust="spacingAndGlyphs">d</tspan><tspan x="475.62" textLength="7.15" lengthAdjust="spacingAndGlyphs">u</tspan><tspan x="483.61" textLength="5.18" lengthAdjust="spacingAndGlyphs">l</tspan><tspan x="489.91">e</tspan></text>
<text class="b" y="438.2"><title>Flash</title><tspan x="359.03" textLength="7.15" lengthAdjust="spacingAndGlyphs">F</tspan><tspan x="367.01" textLength="5.18" lengthAdjust="spacingAndGlyphs">l</tspan><tspan x="373.31">a</tspan><tspan x="380.72">s</tspan><tspan x="387.03" textLength="7.15" lengthAdjust="spacingAndGlyphs">h</tspan></text>
<text class="b" y="455.15"><title>Light</title><tspan x="359.03" textLength="7.15" lengthAdjust="spacingAndGlyphs">L</tspan><tspan x="367.01" textLength="5.18" lengthAdjust="spacingAndGlyphs">i</tspan><tspan x="373.03" textLength="7.15" lengthAdjust="spacingAndGlyphs">g</tspan><tspan x="380.03" textLength="7.15" lengthAdjust="spacingAndGlyphs">h</tspan><tspan x="388.01" textLength="5.18" lengthAdjust="spacingAndGlyphs">t</tspan></text>
<text class="b" y="472.1"><title>&amp;Decrypt</title><tspan x="348.53" textLength="7.15" lengthAdjust="spacingAndGlyphs">&amp;</tspan><tspan x="355.53" textLength="7.15" lengthAdjust="spacingAndGlyphs">D</tspan><tspan x="362.81">e</tspan><tspan x="369.81">c</tspan><tspan x="377.51" textLength="5.18" lengthAdjust="spacingAndGlyphs">r</tspan><tspan x="383.53" textLength="7.15" lengthAdjust="spacingAndGlyphs">y</tspan><tspan x="390.53" textLength="7.15" lengthAdjust="spacingAndGlyphs">p</tspan><tspan x="398.51" textLength="5.18" lengthAdjust="spacingAndGlyphs">t</tspan></text>
<text class="b" y="489.05"><title>ion</title><tspan x="367.01" textLength="5.18" lengthAdjust="spacingAndGlyphs">i</tspan><tspan x="373.03" textLength="7.15" lengthAdjust="spacingAndGlyphs">o</tspan><tspan x="380.03" textLength="7.15" lengthAdjust="spacingAndGlyphs">n</tspan></text>
<text class="b" y="541"><title>BAT Set</title><tspan x="352.03" textLength="7.15" lengthAdjust="spacingAndGlyphs">B</tspan><tspan x="359.03" textLength="7.15" lengthAdjust="spacingAndGlyphs">A</tspan><tspan x="366.03" textLength="7.15" lengthAdjust="spacingAndGlyphs">T</tspan> <tspan x="380.03" textLength="7.15" lengthAdjust="spacingAndGlyphs">S</tspan><tspan x="387.31">e</tspan><tspan x="395.01" textLength="5.18" lengthAdjust="spacingAndGlyphs">t</tspan></text>
<text class="b" y="557.8"><title>&amp; HLED</title><tspan x="355.53" textLength="7.15" lengthAdjust="spacingAndGlyphs">&amp;</tspan> <tspan x="369.53" textLength="7.15" lengthAdjust="spacingAndGlyphs">H</tspan><tspan x="376.53" textLength="7.15" lengthAdjust="spacingAndGlyphs">L</tspan><tspan x="383.53" textLength="7.15" lengthAdjust="spacingAndGlyphs">E</tspan><tspan x="390.53" textLength="7.15" lengthAdjust="spacingAndGlyphs">D</tspan></text>
<text class="b" y="626.1"><title>Internal</title><tspan x="348.71" textLength="5.18" lengthAdjust="spacingAndGlyphs">I</tspan><tspan x="354.73" textLength="7.15" lengthAdjust="spacingAndGlyphs">n</tspan><tspan x="362.71" textLength="5.18" lengthAdjust="spacingAndGlyphs">t</tspan><tspan x="369.01">e</tspan><tspan x="376.71" textLength="5.18" lengthAdjust="spacingAndGlyphs">r</tspan><tspan x="382.73" textLength="7.15" lengthAdjust="spacingAndGlyphs">n</tspan><tspan x="390.01">a</tspan><tspan x="397.71" textLength="5.18" lengthAdjust="spacingAndGlyphs">l</tspan></text>
<text class="b" y="643.1"><title>Power</title><tspan x="358.23" textLength="7.15" lengthAdjust="spacingAndGlyphs">P</tspan><tspan x="365.23" textLength="7.15" lengthAdjust="spacingAndGlyphs">o</tspan><tspan x="372.23" textLength="7.15" lengthAdjust="spacingAndGlyphs">w</tspan><tspan x="379.51">e</tspan><tspan x="387.21" textLength="5.18" lengthAdjust="spacingAndGlyphs">r</tspan></text>
<text class="b" y="525.1"><title>Fast</title><tspan x="460.93" textLength="7.15" lengthAdjust="spacingAndGlyphs">F</tspan><tspan x="468.21">a</tspan><tspan x="475.62">s</tspan><tspan x="482.91" textLength="5.18" lengthAdjust="spacingAndGlyphs">t</tspan></text>
<text class="b" y="542"><title>Charge</title><tspan x="453.93" textLength="7.15" lengthAdjust="spacingAndGlyphs">C</tspan><tspan x="460.93" textLength="7.15" lengthAdjust="spacingAndGlyphs">h</tspan><tspan x="468.21">a</tspan><tspan x="475.91" textLength="5.18" lengthAdjust="spacingAndGlyphs">r</tspan><tspan x="481.93" textLength="7.15" lengthAdjust="spacingAndGlyphs">g</tspan><tspan x="489.21">e</tspan></text>
<text class="b" y="558.9"><title>Protocol</title><tspan x="446.93" textLength="7.15" lengthAdjust="spacingAndGlyphs">P</tspan><tspan x="454.91" textLength="5.18" lengthAdjust="spacingAndGlyphs">r</tspan><tspan x="460.93" textLength="7.15" lengthAdjust="spacingAndGlyphs">o</tspan><tspan x="468.91" textLength="5.18" lengthAdjust="spacingAndGlyphs">t</tspan><tspan x="474.93" textLength="7.15" lengthAdjust="spacingAndGlyphs">o</tspan><tspan x="482.21">c</tspan><tspan x="488.93" textLength="7.15" lengthAdjust="spacingAndGlyphs">o</tspan><tspan x="496.91" textLength="5.18" lengthAdjust="spacingAndGlyphs">l</tspan></text>
<text class="b" y="649.1"><title>KEY</title><tspan x="465.23" textLength="7.15" lengthAdjust="spacingAndGlyphs">K</tspan><tspan x="472.23" textLength="7.15" lengthAdjust="spacingAndGlyphs">E</tspan><tspan x="479.23" textLength="7.15" lengthAdjust="spacingAndGlyphs">Y</tspan></text>
<text class="s" y="256.8"><title>LED1/SCK</title><tspan x="227.78" textLength="6.25" lengthAdjust="spacingAndGlyphs">L</tspan><tspan x="233.78" textLength="6.25" lengthAdjust="spacingAndGlyphs">E</tspan><tspan x="239.78" textLength="6.25" lengthAdjust="spacingAndGlyphs">D</tspan><tspan x="245.78" textLength="6.25" lengthAdjust="spacingAndGlyphs">1</tspan><tspan x="253.11">/</tspan><tspan x="257.77" textLength="6.25" lengthAdjust="spacingAndGlyphs">S</tspan><tspan x="263.77" textLength="6.25" lengthAdjust="spacingAndGlyphs">C</tspan><tspan x="269.77" textLength="6.25" lengthAdjust="spacingAndGlyphs">K</tspan></text>
<text class="s" y="256.8"><title>LED1/SCK</title><tspan x="290.48" textLength="6.25" lengthAdjust="spacingAndGlyphs">L</tspan><tspan x="296.48" textLength="6.25" lengthAdjust="spacingAndGlyphs">E</tspan><tspan x="302.48" textLength="6.25" lengthAdjust="spacingAndGlyphs">D</tspan><tspan x="308.48" textLength="6.25" lengthAdjust="spacingAndGlyphs">1</tspan><tspan x="315.81">/</tspan><tspan x="320.48" textLength="6.25" lengthAdjust="spacingAndGlyphs">S</tspan><tspan x="326.48" textLength="6.25" lengthAdjust="spacingAndGlyphs">C</tspan><tspan x="332.48" textLength="6.25" lengthAdjust="spacingAndGlyphs">K</tspan></text>
<text class="s" y="328.2"><title>LED2/SDA</title><tspan x="230.88" textLength="6.25" lengthAdjust="spacingAndGlyphs">L</tspan><tspan x="236.88" textLength="6.25" lengthAdjust="spacingAndGlyphs">E</tspan><tspan x="242.88" textLength="6.25" lengthAdjust="spacingAndGlyphs">D</tspan><tspan x="248.88" textLength="6.25" lengthAdjust="spacingAndGlyphs">2</tspan><tspan x="256.21">/</tspan><tspan x="260.88" textLength="6.25" lengthAdjust="spacingAndGlyphs">S</tspan><tspan x="266.88" textLength="6.25" lengthAdjust="spacingAndGlyphs">D</tspan><tspan x="272.88" textLength="6.25" lengthAdjust="spacingAndGlyphs">A</tspan></text>
<text class="s" y="328.2"><title>LED2/SDA</title><tspan x="290.48" textLength="6.25" lengthAdjust="spacingAndGlyphs">L</tspan><tspan x="296.48" textLength="6.25" lengthAdjust="spacingAndGlyphs">E</tspan><tspan x="302.48" textLength="6.25" lengthAdjust="spacingAndGlyphs">D</tspan><tspan x="308.48" textLength="6.25" lengthAdjust="spacingAndGlyphs">2</tspan><tspan x="315.81">/</tspan><tspan x="320.48" textLength="6.25" lengthAdjust="spacingAndGlyphs">S</tspan><tspan x="326.48" textLength="6.25" lengthAdjust="spacingAndGlyphs">D</tspan><tspan x="332.48" textLength="6.25" lengthAdjust="spacingAndGlyphs">A</tspan></text>
<text class="s" y="356.7"><title>LED3/IRQ</title><tspan x="227.78" textLength="6.25" lengthAdjust="spacingAndGlyphs">L</tspan><tspan x="233.78" textLength="6.25" lengthAdjust="spacingAndGlyphs">E</tspan><tspan x="239.78" textLength="6.25" lengthAdjust="spacingAndGlyphs">D</tspan><tspan x="245.78" textLength="6.25" lengthAdjust="spacingAndGlyphs">3</tspan><tspan x="253.11">/</tspan><tspan x="258.68" textLength="4.44" lengthAdjust="spacingAndGlyphs">I</tspan><tspan x="263.77" textLength="6.25" lengthAdjust="spacingAndGlyphs">R</tspan><tspan x="269.77" textLength="6.25" lengthAdjust="spacingAndGlyphs">Q</tspan></text>
<text class="s" y="356.7"><title>LED3/IRQ</title><tspan x="290.48" textLength="6.25" lengthAdjust="spacingAndGlyphs">L</tspan><tspan x="296.48" textLength="6.25" lengthAdjust="spacingAndGlyphs">E</tspan><tspan x="302.48" textLength="6.25" lengthAdjust="spacingAndGlyphs">D</tspan><tspan x="308.48" textLength="6.25" lengthAdjust="spacingAndGlyphs">3</tspan><tspan x="315.81">/</tspan><tspan x="321.38" textLength="4.44" lengthAdjust="spacingAndGlyphs">I</tspan><tspan x="326.48" textLength="6.25" lengthAdjust="spacingAndGlyphs">R</tspan><tspan x="332.48" textLength="6.25" lengthAdjust="spacingAndGlyphs">Q</tspan></text>
<text class="s" y="385.5"><title>LED4/I2C</title><tspan x="227.78" textLength="6.25" lengthAdjust="spacingAndGlyphs">L</tspan><tspan x="233.78" textLength="6.25" lengthAdjust="spacingAndGlyphs">E</tspan><tspan x="239.78" textLength="6.25" lengthAdjust="spacingAndGlyphs">D</tspan><tspan x="245.78" textLength="6.25" lengthAdjust="spacingAndGlyphs">4</tspan><tspan x="253.11">/</tspan><tspan x="258.68" textLength="4.44" lengthAdjust="spacingAndGlyphs">I</tspan><tspan x="263.77" textLength="6.25" lengthAdjust="spacingAndGlyphs">2</tspan><tspan x="269.77" textLength="6.25" lengthAdjust="spacingAndGlyphs">C</tspan></text>
<text class="s" y="385.5"><title>LED4/I2C</title><tspan x="290.48" textLength="6.25" lengthAdjust="spacingAndGlyphs">L</tspan><tspan x="296.48" textLength="6.25" lengthAdjust="spacingAndGlyphs">E</tspan><tspan x="302.48" textLength="6.25" lengthAdjust="spacingAndGlyphs">D</tspan><tspan x="308.48" textLength="6.25" lengthAdjust="spacingAndGlyphs">4</tspan><tspan x="315.81">/</tspan><tspan x="321.38" textLength="4.44" lengthAdjust="spacingAndGlyphs">I</tspan><tspan x="326.48" textLength="6.25" lengthAdjust="spacingAndGlyphs">2</tspan><tspan x="332.48" textLength="6.25" lengthAdjust="spacingAndGlyphs">C</tspan></text>
<text class="s" y="456.6"><title>WLED/DATA</title><tspan x="284.88" textLength="6.25" lengthAdjust="spacingAndGlyphs">W</tspan><tspan x="290.88" textLength="6.25" lengthAdjust="spacingAndGlyphs">L</tspan><tspan x="296.88" textLength="6.25" lengthAdjust="spacingAndGlyphs">E</tspan><tspan x="302.88" textLength="6.25" lengthAdjust="spacingAndGlyphs">D</tspan><tspan x="310.21">/</tspan><tspan x="314.88" textLength="6.25" lengthAdjust="spacingAndGlyphs">D</tspan><tspan x="320.88" textLength="6.25" lengthAdjust="spacingAndGlyphs">A</tspan><tspan x="326.88" textLength="6.25" lengthAdjust="spacingAndGlyphs">T</tspan><tspan x="332.88" textLength="6.25" lengthAdjust="spacingAndGlyphs">A</tspan></text>
<text class="s" y="542.3"><title>BSET/HLED</title><tspan x="284.88" textLength="6.25" lengthAdjust="spacingAndGlyphs">B</tspan><tspan x="290.88" textLength="6.25" lengthAdjust="spacingAndGlyphs">S</tspan><tspan x="296.88" textLength="6.25" lengthAdjust="spacingAndGlyphs">E</tspan><tspan x="302.88" textLength="6.25" lengthAdjust="spacingAndGlyphs">T</tspan><tspan x="310.21">/</tspan><tspan x="314.88" textLength="6.25" lengthAdjust="spacingAndGlyphs">H</tspan><tspan x="320.88" textLength="6.25" lengthAdjust="spacingAndGlyphs">L</tspan><tspan x="326.88" textLength="6.25" lengthAdjust="spacingAndGlyphs">E</tspan><tspan x="332.88" textLength="6.25" lengthAdjust="spacingAndGlyphs">D</tspan></text>
<text class="s" y="613.3"><title>VCC</title><tspan x="299.48" textLength="6.25" lengthAdjust="spacingAndGlyphs">V</tspan><tspan x="305.48" textLength="6.25" lengthAdjust="spacingAndGlyphs">C</tspan><tspan x="311.48" textLength="6.25" lengthAdjust="spacingAndGlyphs">C</tspan></text>
<text class="s" y="642.4"><title>VDRV</title><tspan x="299.48" textLength="6.25" lengthAdjust="spacingAndGlyphs">V</tspan><tspan x="305.48" textLength="6.25" lengthAdjust="spacingAndGlyphs">D</tspan><tspan x="311.48" textLength="6.25" lengthAdjust="spacingAndGlyphs">R</tspan><tspan x="317.48" textLength="6.25" lengthAdjust="spacingAndGlyphs">V</tspan></text>
<text class="s" y="677.6"><title>AGND</title><tspan x="385.88" textLength="6.25" lengthAdjust="spacingAndGlyphs">A</tspan><tspan x="391.88" textLength="6.25" lengthAdjust="spacingAndGlyphs">G</tspan><tspan x="397.88" textLength="6.25" lengthAdjust="spacingAndGlyphs">N</tspan><tspan x="403.88" textLength="6.25" lengthAdjust="spacingAndGlyphs">D</tspan></text>
<text class="s" y="677.6"><title>EPAD</title><tspan x="456.88" textLength="6.25" lengthAdjust="spacingAndGlyphs">E</tspan><tspan x="462.88" textLength="6.25" lengthAdjust="spacingAndGlyphs">P</tspan><tspan x="468.88" textLength="6.25" lengthAdjust="spacingAndGlyphs">A</tspan><tspan x="474.88" textLength="6.25" lengthAdjust="spacingAndGlyphs">D</tspan></text>
<text class="s" y="156.8"><title>VOUT</title><tspan x="543.67" textLength="6.25" lengthAdjust="spacingAndGlyphs">V</tspan><tspan x="549.67" textLength="6.25" lengthAdjust="spacingAndGlyphs">O</tspan><tspan x="555.67" textLength="6.25" lengthAdjust="spacingAndGlyphs">U</tspan><tspan x="561.67" textLength="6.25" lengthAdjust="spacingAndGlyphs">T</tspan></text>
<text class="s" y="214.2"><title>BST</title><tspan x="549.48" textLength="6.25" lengthAdjust="spacingAndGlyphs">B</tspan><tspan x="555.48" textLength="6.25" lengthAdjust="spacingAndGlyphs">S</tspan><tspan x="561.48" textLength="6.25" lengthAdjust="spacingAndGlyphs">T</tspan></text>
<text class="s" y="299.3"><title>SW</title><tspan x="555.48" textLength="6.25" lengthAdjust="spacingAndGlyphs">S</tspan><tspan x="561.48" textLength="6.25" lengthAdjust="spacingAndGlyphs">W</tspan></text>
<text class="s" y="399.7"><title>BATCSP</title><tspan x="531.27" textLength="6.25" lengthAdjust="spacingAndGlyphs">B</tspan><tspan x="537.27" textLength="6.25" lengthAdjust="spacingAndGlyphs">A</tspan><tspan x="543.27" textLength="6.25" lengthAdjust="spacingAndGlyphs">T</tspan><tspan x="549.27" textLength="6.25" lengthAdjust="spacingAndGlyphs">C</tspan><tspan x="555.27" textLength="6.25" lengthAdjust="spacingAndGlyphs">S</tspan><tspan x="561.27" textLength="6.25" lengthAdjust="spacingAndGlyphs">P</tspan></text>
<text class="s" y="414"><title>BAT</title><tspan x="549.48" textLength="6.25" lengthAdjust="spacingAndGlyphs">B</tspan><tspan x="555.48" textLength="6.25" lengthAdjust="spacingAndGlyphs">A</tspan><tspan x="561.48" textLength="6.25" lengthAdjust="spacingAndGlyphs">T</tspan></text>
<text class="s" y="428.3"><title>NTC</title><tspan x="549.48" textLength="6.25" lengthAdjust="spacingAndGlyphs">N</tspan><tspan x="555.48" textLength="6.25" lengthAdjust="spacingAndGlyphs">T</tspan><tspan x="561.48" textLength="6.25" lengthAdjust="spacingAndGlyphs">C</tspan></text>
<text class="s" y="485.6"><title>CC1</title><tspan x="548.48" textLength="6.25" lengthAdjust="spacingAndGlyphs">C</tspan><tspan x="554.48" textLength="6.25" lengthAdjust="spacingAndGlyphs">C</tspan><tspan x="560.48" textLength="6.25" lengthAdjust="spacingAndGlyphs">1</tspan></text>
<text class="s" y="484.2"><title>CC1</title><tspan x="594.48" textLength="6.25" lengthAdjust="spacingAndGlyphs">C</tspan><tspan x="600.48" textLength="6.25" lengthAdjust="spacingAndGlyphs">C</tspan><tspan x="606.48" textLength="6.25" lengthAdjust="spacingAndGlyphs">1</tspan></text>
<text class="s" y="499.87"><title>CC2</title><tspan x="548.48" textLength="6.25" lengthAdjust="spacingAndGlyphs">C</tspan><tspan x="554.48" textLength="6.25" lengthAdjust="spacingAndGlyphs">C</tspan><tspan x="560.48" textLength="6.25" lengthAdjust="spacingAndGlyphs">2</tspan></text>
<text class="s" y="498.47"><title>CC2</title><tspan x="594.48" textLength="6.25" lengthAdjust="spacingAndGlyphs">C</tspan><tspan x="600.48" textLength="6.25" lengthAdjust="spacingAndGlyphs">C</tspan><tspan x="606.48" textLength="6.25" lengthAdjust="spacingAndGlyphs">2</tspan></text>
<text class="s" y="514.14"><title>DPA</title><tspan x="548.48" textLength="6.25" lengthAdjust="spacingAndGlyphs">D</tspan><tspan x="554.48" textLength="6.25" lengthAdjust="spacingAndGlyphs">P</tspan><tspan x="560.48" textLength="6.25" lengthAdjust="spacingAndGlyphs">A</tspan></text>
<text class="s" y="512.74"><title>DPA</title><tspan x="594.48" textLength="6.25" lengthAdjust="spacingAndGlyphs">D</tspan><tspan x="600.48" textLength="6.25" lengthAdjust="spacingAndGlyphs">P</tspan><tspan x="606.48" textLength="6.25" lengthAdjust="spacingAndGlyphs">A</tspan></text>
<text class="s" y="528.41"><title>DMA</title><tspan x="548.48" textLength="6.25" lengthAdjust="spacingAndGlyphs">D</tspan><tspan x="554.48" textLength="6.25" lengthAdjust="spacingAndGlyphs">M</tspan><tspan x="560.48" textLength="6.25" lengthAdjust="spacingAndGlyphs">A</tspan></text>
<text class="s" y="527.01"><title>DMA</title><tspan x="594.48" textLength="6.25" lengthAdjust="spacingAndGlyphs">D</tspan><tspan x="600.48" textLength="6.25" lengthAdjust="spacingAndGlyphs">M</tspan><tspan x="606.48" textLength="6.25" lengthAdjust="spacingAndGlyphs">A</tspan></text>
<text class="s" y="542.68"><title>DPC</title><tspan x="548.48" textLength="6.25" lengthAdjust="spacingAndGlyphs">D</tspan><tspan x="554.48" textLength="6.25" lengthAdjust="spacingAndGlyphs">P</tspan><tspan x="560.48" textLength="6.25" lengthAdjust="spacingAndGlyphs">C</tspan></text>
<text class="s" y="541.28"><title>DPC</title><tspan x="594.48" textLength="6.25" lengthAdjust="spacingAndGlyphs">D</tspan><tspan x="600.48" textLength="6.25" lengthAdjust="spacingAndGlyphs">P</tspan><tspan x="606.48" textLength="6.25" lengthAdjust="spacingAndGlyphs">C</tspan></text>
<text class="s" y="556.95"><title>DMC</title><tspan x="548.48" textLength="6.25" lengthAdjust="spacingAndGlyphs">D</tspan><tspan x="554.48" textLength="6.25" lengthAdjust="spacingAndGlyphs">M</tspan><tspan x="560.48" textLength="6.25" lengthAdjust="spacingAndGlyphs">C</tspan></text>
<text class="s" y="555.55"><title>DMC</title><tspan x="594.48" textLength="6.25" lengthAdjust="spacingAndGlyphs">D</tspan><tspan x="600.48" textLength="6.25" lengthAdjust="spacingAndGlyphs">M</tspan><tspan x="606.48" textLength="6.25" lengthAdjust="spacingAndGlyphs">C</tspan></text>
<text class="s" y="571.22"><title>DPB</title><tspan x="548.48" textLength="6.25" lengthAdjust="spacingAndGlyphs">D</tspan><tspan x="554.48" textLength="6.25" lengthAdjust="spacingAndGlyphs">P</tspan><tspan x="560.48" textLength="6.25" lengthAdjust="spacingAndGlyphs">B</tspan></text>
<text class="s" y="569.82"><title>DPB</title><tspan x="594.48" textLength="6.25" lengthAdjust="spacingAndGlyphs">D</tspan><tspan x="600.48" textLength="6.25" lengthAdjust="spacingAndGlyphs">P</tspan><tspan x="606.48" textLength="6.25" lengthAdjust="spacingAndGlyphs">B</tspan></text>
<text class="s" y="585.49"><title>DMB</title><tspan x="548.48" textLength="6.25" lengthAdjust="spacingAndGlyphs">D</tspan><tspan x="554.48" textLength="6.25" lengthAdjust="spacingAndGlyphs">M</tspan><tspan x="560.48" textLength="6.25" lengthAdjust="spacingAndGlyphs">B</tspan></text>
<text class="s" y="584.09"><title>DMB</title><tspan x="594.48" textLength="6.25" lengthAdjust="spacingAndGlyphs">D</tspan><tspan x="600.48" textLength="6.25" lengthAdjust="spacingAndGlyphs">M</tspan><tspan x="606.48" textLength="6.25" lengthAdjust="spacingAndGlyphs">B</tspan></text>
<text class="s" y="642.1"><title>KEY</title><tspan x="549.48" textLength="6.25" lengthAdjust="spacingAndGlyphs">K</tspan><tspan x="555.48" textLength="6.25" lengthAdjust="spacingAndGlyphs">E</tspan><tspan x="561.48" textLength="6.25" lengthAdjust="spacingAndGlyphs">Y</tspan></text>
<text class="s g" y="286"><title>LED5</title><tspan x="58.27" textLength="6.25" lengthAdjust="spacingAndGlyphs">L</tspan><tspan x="64.28" textLength="6.25" lengthAdjust="spacingAndGlyphs">E</tspan><tspan x="70.28" textLength="6.25" lengthAdjust="spacingAndGlyphs">D</tspan><tspan x="76.28" textLength="6.25" lengthAdjust="spacingAndGlyphs">5</tspan></text>
<text class="s g" y="287.2"><title>LED3</title><tspan x="143.47" textLength="6.25" lengthAdjust="spacingAndGlyphs">L</tspan><tspan x="149.47" textLength="6.25" lengthAdjust="spacingAndGlyphs">E</tspan><tspan x="155.47" textLength="6.25" lengthAdjust="spacingAndGlyphs">D</tspan><tspan x="161.47" textLength="6.25" lengthAdjust="spacingAndGlyphs">3</tspan></text>
<text class="s g" y="313.2"><title>LED4</title><tspan x="72.47" textLength="6.25" lengthAdjust="spacingAndGlyphs">L</tspan><tspan x="78.47" textLength="6.25" lengthAdjust="spacingAndGlyphs">E</tspan><tspan x="84.47" textLength="6.25" lengthAdjust="spacingAndGlyphs">D</tspan><tspan x="90.47" textLength="6.25" lengthAdjust="spacingAndGlyphs">4</tspan></text>
<text class="s g" y="313.2"><title>LED2</title><tspan x="157.88" textLength="6.25" lengthAdjust="spacingAndGlyphs">L</tspan><tspan x="163.88" textLength="6.25" lengthAdjust="spacingAndGlyphs">E</tspan><tspan x="169.88" textLength="6.25" lengthAdjust="spacingAndGlyphs">D</tspan><tspan x="175.88" textLength="6.25" lengthAdjust="spacingAndGlyphs">2</tspan></text>
<text class="s g" y="298.8"><title>LED1</title><tspan x="233.47" textLength="6.25" lengthAdjust="spacingAndGlyphs">L</tspan><tspan x="239.47" textLength="6.25" lengthAdjust="spacingAndGlyphs">E</tspan><tspan x="245.47" textLength="6.25" lengthAdjust="spacingAndGlyphs">D</tspan><tspan x="251.47" textLength="6.25" lengthAdjust="spacingAndGlyphs">1</tspan></text>
<text class="s" y="455.5"><title>VBAT</title><tspan x="104.17" textLength="6.25" lengthAdjust="spacingAndGlyphs">V</tspan><tspan x="110.17" textLength="6.25" lengthAdjust="spacingAndGlyphs">B</tspan><tspan x="116.17" textLength="6.25" lengthAdjust="spacingAndGlyphs">A</tspan><tspan x="122.17" textLength="6.25" lengthAdjust="spacingAndGlyphs">T</tspan></text>
<text class="s g" y="476.4"><title>20Ω</title><tspan x="147.47" textLength="6.25" lengthAdjust="spacingAndGlyphs">2</tspan><tspan x="153.47" textLength="6.25" lengthAdjust="spacingAndGlyphs">0</tspan><tspan x="161.4" textLength="7.6" lengthAdjust="spacingAndGlyphs">Ω</tspan></text>
<text class="s g" y="476.6"><title>WLED</title><tspan x="200.78" textLength="6.25" lengthAdjust="spacingAndGlyphs">W</tspan><tspan x="206.78" textLength="6.25" lengthAdjust="spacingAndGlyphs">L</tspan><tspan x="212.78" textLength="6.25" lengthAdjust="spacingAndGlyphs">E</tspan><tspan x="218.78" textLength="6.25" lengthAdjust="spacingAndGlyphs">D</tspan></text>
<text class="s g" y="591.3"><title>2K</title><tspan x="138.47" textLength="6.25" lengthAdjust="spacingAndGlyphs">2</tspan><tspan x="144.47" textLength="6.25" lengthAdjust="spacingAndGlyphs">K</tspan></text>
<text class="s g" y="668"><title>HLED</title><tspan x="99.88" textLength="6.25" lengthAdjust="spacingAndGlyphs">H</tspan><tspan x="105.88" textLength="6.25" lengthAdjust="spacingAndGlyphs">L</tspan><tspan x="111.88" textLength="6.25" lengthAdjust="spacingAndGlyphs">E</tspan><tspan x="117.88" textLength="6.25" lengthAdjust="spacingAndGlyphs">D</tspan></text>
<text class="s g" y="684.4"><title>10uF</title><tspan x="179.07" textLength="6.25" lengthAdjust="spacingAndGlyphs">1</tspan><tspan x="185.07" textLength="6.25" lengthAdjust="spacingAndGlyphs">0</tspan><tspan x="191.07" textLength="6.25" lengthAdjust="spacingAndGlyphs">u</tspan><tspan x="197.07" textLength="6.25" lengthAdjust="spacingAndGlyphs">F</tspan></text>
<text class="s g" y="684.4"><title>1uF</title><tspan x="225.88" textLength="6.25" lengthAdjust="spacingAndGlyphs">1</tspan><tspan x="231.88" textLength="6.25" lengthAdjust="spacingAndGlyphs">u</tspan><tspan x="237.88" textLength="6.25" lengthAdjust="spacingAndGlyphs">F</tspan></text>
<text class="s g" y="265.3"><title>0.1uF</title><tspan x="618.88" textLength="6.25" lengthAdjust="spacingAndGlyphs">0</tspan><tspan x="625.6">.</tspan><tspan x="630.88" textLength="6.25" lengthAdjust="spacingAndGlyphs">1</tspan><tspan x="636.88" textLength="6.25" lengthAdjust="spacingAndGlyphs">u</tspan><tspan x="642.88" textLength="6.25" lengthAdjust="spacingAndGlyphs">F</tspan></text>
<text class="s g" y="281.2"><title>2.2uH</title><tspan x="628.17" textLength="6.25" lengthAdjust="spacingAndGlyphs">2</tspan><tspan x="634.9">.</tspan><tspan x="640.17" textLength="6.25" lengthAdjust="spacingAndGlyphs">2</tspan><tspan x="646.17" textLength="6.25" lengthAdjust="spacingAndGlyphs">u</tspan><tspan x="652.17" textLength="6.25" lengthAdjust="spacingAndGlyphs">H</tspan></text>
<text class="s g" y="328.4"><title>22uF</title><tspan x="642.48" textLength="6.25" lengthAdjust="spacingAndGlyphs">2</tspan><tspan x="648.48" textLength="6.25" lengthAdjust="spacingAndGlyphs">2</tspan><tspan x="654.48" textLength="6.25" lengthAdjust="spacingAndGlyphs">u</tspan><tspan x="660.48" textLength="6.25" lengthAdjust="spacingAndGlyphs">F</tspan></text>
<text class="s g" y="265.6"><title>0.1uF</title><tspan x="710.48" textLength="6.25" lengthAdjust="spacingAndGlyphs">0</tspan><tspan x="717.2">.</tspan><tspan x="722.48" textLength="6.25" lengthAdjust="spacingAndGlyphs">1</tspan><tspan x="728.48" textLength="6.25" lengthAdjust="spacingAndGlyphs">u</tspan><tspan x="734.48" textLength="6.25" lengthAdjust="spacingAndGlyphs">F</tspan></text>
<text class="s g" y="319.7"><title>5mΩ</title><tspan x="713.77" textLength="6.25" lengthAdjust="spacingAndGlyphs">5</tspan><tspan x="719.77" textLength="6.25" lengthAdjust="spacingAndGlyphs">m</tspan><tspan x="727.7" textLength="7.6" lengthAdjust="spacingAndGlyphs">Ω</tspan></text>
<text class="s" y="298.7"><title>VBAT</title><tspan x="756.17" textLength="6.25" lengthAdjust="spacingAndGlyphs">V</tspan><tspan x="762.17" textLength="6.25" lengthAdjust="spacingAndGlyphs">B</tspan><tspan x="768.17" textLength="6.25" lengthAdjust="spacingAndGlyphs">A</tspan><tspan x="774.17" textLength="6.25" lengthAdjust="spacingAndGlyphs">T</tspan></text>
<text class="s g" y="328.4"><title>22uF</title><tspan x="779.48" textLength="6.25" lengthAdjust="spacingAndGlyphs">2</tspan><tspan x="785.48" textLength="6.25" lengthAdjust="spacingAndGlyphs">2</tspan><tspan x="791.48" textLength="6.25" lengthAdjust="spacingAndGlyphs">u</tspan><tspan x="797.48" textLength="6.25" lengthAdjust="spacingAndGlyphs">F</tspan></text>
<text class="s g" y="688.3"><title>PUSH KEY</title><tspan x="672.88" textLength="6.25" lengthAdjust="spacingAndGlyphs">P</tspan><tspan x="678.88" textLength="6.25" lengthAdjust="spacingAndGlyphs">U</tspan><tspan x="684.88" textLength="6.25" lengthAdjust="spacingAndGlyphs">S</tspan><tspan x="690.88" textLength="6.25" lengthAdjust="spacingAndGlyphs">H</tspan> <tspan x="702.88" textLength="6.25" lengthAdjust="spacingAndGlyphs">K</tspan><tspan x="708.88" textLength="6.25" lengthAdjust="spacingAndGlyphs">E</tspan><tspan x="714.88" textLength="6.25" lengthAdjust="spacingAndGlyphs">Y</tspan></text>
</g>
</svg>
</body>
</html>
